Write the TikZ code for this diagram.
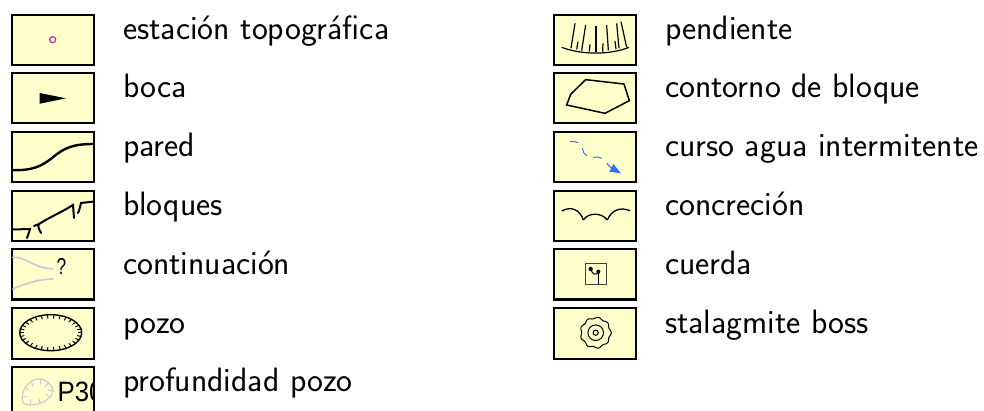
\documentclass[tikz,border=0pt]{standalone}
\usepackage{fontspec}
\newfontfamily\helv{Liberation Sans}
\definecolor{legfill}{RGB}{255,255,204}
\definecolor{faintgrey}{RGB}{205,205,215}
\definecolor{stationpurple}{RGB}{170,50,170}
\definecolor{waterblue}{RGB}{45,115,245}
\tikzset{
  legbox/.style={draw=black,line width=2pt,fill=legfill,minimum width=82pt,minimum height=50.5pt,inner sep=0pt,outer sep=0pt,anchor=north west},
  legtext/.style={anchor=base west,inner sep=0pt,outer sep=0pt,font=\sffamily\fontsize{33.8}{40}\selectfont},
  wall/.style={line width=2.4pt,black,line cap=round},
  fine/.style={line width=1.4pt,black},
  faint/.style={line width=1.8pt,color=faintgrey,line cap=round}
}
\begin{document}
\begin{tikzpicture}[x=1pt,y=-1pt]
\clip (0,0) rectangle (984,411);
% left boxes
\node[legbox] (b1) at (12,15) {};
\node[legbox] (b2) at (12,73) {};
\node[legbox] (b3) at (12,132) {};
\node[legbox] (b4) at (12,191) {};
\node[legbox] (b5) at (12,249) {};
\node[legbox] (b6) at (12,308) {};
\node[legbox] (b7) at (12,367) {};
% right boxes
\node[legbox] (c1) at (554,15) {};
\node[legbox] (c2) at (554,73) {};
\node[legbox] (c3) at (554,132) {};
\node[legbox] (c4) at (554,191) {};
\node[legbox] (c5) at (554,249) {};
\node[legbox] (c6) at (554,308) {};
% labels
\node[legtext] (t1) at (123,39.8) {estación topográfica};
\node[legtext] (t2) at (123,98) {boca};
\node[legtext] (t3) at (123,156.5) {pared};
\node[legtext] (t4) at (123,215.5) {bloques};
\node[legtext] (t5) at (123,274.5) {continuación};
\node[legtext] (t6) at (123,333) {pozo};
\node[legtext] (t7) at (123,391.5) {profundidad pozo};
\node[legtext] (u1) at (665,39.8) {pendiente};
\node[legtext] (u2) at (665,98) {contorno de bloque};
\node[legtext] (u3) at (665,156.5) {curso agua intermitente};
\node[legtext] (u4) at (665,215.5) {concreción};
\node[legtext] (u5) at (665,274.5) {cuerda};
\node[legtext] (u6) at (665,333) {stalagmite boss};
% station
\draw[stationpurple,line width=1.2pt] (52.7,39.7) circle (3);
% entrance
\fill[black] (39.7,93) -- (66,98.3) -- (39.7,103.7) -- cycle;
% wall
\draw[wall] (12,170) .. controls (32,171) and (42,166) .. (52,158) .. controls (64,148) and (72,144) .. (94,144);
% blocks
\begin{scope}[wall,line width=2pt]
\draw (12,229.5) -- (30,229) .. controls (29,233) and (28,235) .. (27,238);
\draw (34,226) -- (39,224) .. controls (37,227) and (40,230) .. (41,233);
\draw (39,224) .. controls (50,217) and (62,212) .. (73,205) -- (74,218);
\draw (78,213) .. controls (80,209) and (80,206) .. (81,203) -- (94,201.5);
\end{scope}
% continuation
\draw[faint] (13,257.5) .. controls (26,256) and (32,268) .. (53,269);
\draw[faint] (13,289) .. controls (25,284) and (38,279) .. (53,279);
\node[inner sep=0pt,font=\helv\fontsize{23}{24}\selectfont,xscale=0.75] (q) at (61.5,266) {?};
% pit
\draw[fine] (50.7,332.7) ellipse [x radius=31,y radius=18];
\foreach \a in {0,12,...,348}
  \draw[fine,line width=1pt] ({50.7+31*cos(\a)},{332.7+18*sin(\a)}) -- ({50.7+27*cos(\a)},{332.7+14.2*sin(\a)});
% pit depth
\draw[faint,line width=1.2pt] (22,398) .. controls (23,386) and (32,378) .. (40,379) .. controls (48,380) and (54,388) .. (53,391) .. controls (51,400) and (40,405) .. (30,405) .. controls (25,405) and (22,403) .. (22,398) -- cycle;
\foreach \ax/\ay/\bx/\by in {40/379/40/384,31/381/33/386,25/388/29/390,22/398/27/396,30/405/31/400,40/403/39/399,49/397/46/394,53/391/48/390,48/383/45/387}
  \draw[faint,line width=1pt] (\ax,\ay) -- (\bx,\by);
\begin{scope}
\clip (12,367) rectangle (94.5,411);
\node[anchor=base west,inner sep=0pt,font=\helv\fontsize{28}{30}\selectfont,xscale=0.92] (p) at (57.5,401.5) {P30};
\end{scope}
% slope
\begin{scope}[shift={(545,5)},x=0.3333pt,y=-0.3333pt,line width=1.2pt,black]
\draw (50,127) .. controls (110,150) and (195,150) .. (252,127);
\foreach \ax/\ay/\bx/\by in {78/130/90/55,110/137/122/60,153/142/153/62,190/136/185/60,222/130/215/55,245/127/228/50,95/133/99/110,133/140/135/118,173/140/174/115,213/132/210/108}
  \draw (\ax,\ay) -- (\bx,\by);
% block outline
\draw[line width=1.5pt] (122,224) -- (237,237) -- (253,287) -- (180,325) -- (65,300) -- (77,268) -- cycle;
\end{scope}
% water
\begin{scope}[shift={(545,125)},x=0.3333pt,y=-0.3333pt,waterblue,line width=1pt]
\draw (75,50) .. controls (85,48) and (92,50) .. (100,53);
\draw (112,70) .. controls (113,80) and (118,88) .. (125,92);
\draw (145,97) .. controls (155,95) and (163,96) .. (170,100);
\draw (185,115) -- (200,130);
\fill (228,145) -- (205,117) -- (193,140) -- cycle;
\end{scope}
% concretion
\begin{scope}[shift={(545,125)},x=0.3333pt,y=-0.3333pt,black,line width=1.3pt]
\draw (50,258) .. controls (80,242) and (105,255) .. (115,285);
\draw (115,285) .. controls (130,262) and (170,262) .. (187,285);
\draw (187,285) .. controls (200,255) and (225,245) .. (255,257);
\end{scope}
% rope
\begin{scope}[shift={(545,245)},x=0.3333pt,y=-0.3333pt,black]
\draw[line width=1pt,draw=black!75] (120,57) rectangle (183,120);
\fill (137,72) circle [radius=6.5];
\fill (160,80) circle [radius=6];
\draw[line width=1.4pt] (160,80) -- (160,120);
\draw[line width=1pt] (137,72) .. controls (142,90) and (155,92) .. (160,80);
\end{scope}
% stalagmite boss
\begin{scope}[line width=1pt,black]
\draw plot[smooth cycle,samples=90,domain=0:356] ({595.7+(14.8+0.8*cos(9*\x))*cos(\x)},{332.7+(14.8+0.8*cos(9*\x))*sin(\x)});
\draw (595.7,332.7) circle (7.8);
\draw (595.7,332.7) circle (2.6);
\end{scope}
\end{tikzpicture}
\end{document}
